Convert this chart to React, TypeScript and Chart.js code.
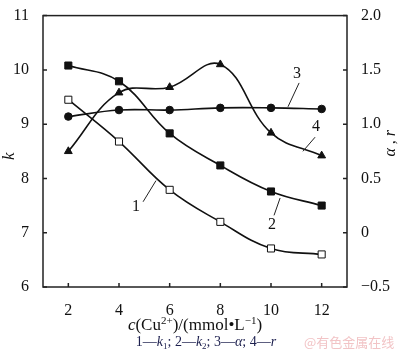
import React, { useEffect, useRef } from "react";
import { Chart, registerables } from "chart.js";

Chart.register(...registerables);

const xValues = [2, 4, 6, 8, 10, 12];
const k1Values = [9.45, 8.68, 7.79, 7.2, 6.71, 6.6];
const k2Values = [10.08, 9.79, 8.83, 8.24, 7.76, 7.5];
const alphaValues = [1.07, 1.13, 1.13, 1.15, 1.15, 1.14];
const rValues = [0.75, 1.29, 1.34, 1.55, 0.92, 0.71];
const xTicks = [2, 4, 6, 8, 10, 12];
const kTicks = [6, 7, 8, 9, 10, 11];
const rightTicks = [-0.5, 0, 0.5, 1.0, 1.5, 2.0];

const SERIF = "'Liberation Serif', 'Times New Roman', serif";

// curve labels in data coords: label position and leader line ends
const curveLabels = [
  { text: "1", axis: "y", lx: 4.67, ly: 7.48, x0: 4.95, y0: 7.57, x1: 5.46, y1: 7.96 },
  { text: "2", axis: "y", lx: 10.04, ly: 7.14, x0: 10.12, y0: 7.32, x1: 10.36, y1: 7.64 },
  { text: "3", axis: "y1", lx: 11.03, ly: 1.46, x0: 11.11, y0: 1.38, x1: 10.67, y1: 1.16 },
  { text: "4", axis: "y1", lx: 11.78, ly: 0.98, x0: 11.74, y0: 0.88, x1: 11.26, y1: 0.75 },
];

type Seg = { t: string; italic?: boolean; sup?: boolean; sub?: boolean };

function drawRuns(ctx: CanvasRenderingContext2D, segs: Seg[], cx: number, baseline: number, size: number, family: string, color: string) {
  const fontFor = (s: Seg) => {
    const sz = s.sup || s.sub ? Math.round(size * 0.65) : size;
    return `${s.italic ? "italic " : ""}${sz}px ${family}`;
  };
  let total = 0;
  for (const s of segs) {
    ctx.font = fontFor(s);
    total += ctx.measureText(s.t).width;
  }
  let x = cx - total / 2;
  ctx.fillStyle = color;
  ctx.textAlign = "left";
  ctx.textBaseline = "alphabetic";
  for (const s of segs) {
    ctx.font = fontFor(s);
    const dy = s.sup ? -size * 0.38 : s.sub ? size * 0.2 : 0;
    ctx.fillText(s.t, x, baseline + dy);
    x += ctx.measureText(s.t).width;
  }
}

const decorPlugin = {
  id: "decor",
  afterDraw(chart: any) {
    const { ctx, chartArea: a, scales } = chart;
    const xs = scales.x, ys = scales.y, y1 = scales.y1;
    ctx.save();
    // frame
    ctx.strokeStyle = "#222";
    ctx.lineWidth = 1.5;
    ctx.strokeRect(a.left, a.top, a.right - a.left, a.bottom - a.top);
    // inward ticks
    ctx.beginPath();
    for (const v of xTicks) {
      const px = xs.getPixelForValue(v);
      ctx.moveTo(px, a.bottom);
      ctx.lineTo(px, a.bottom - 4);
    }
    for (const v of kTicks) {
      const py = ys.getPixelForValue(v);
      ctx.moveTo(a.left, py);
      ctx.lineTo(a.left + 4, py);
    }
    for (const v of rightTicks) {
      const py = y1.getPixelForValue(v);
      ctx.moveTo(a.right, py);
      ctx.lineTo(a.right - 4, py);
    }
    ctx.stroke();

    // curve labels
    ctx.lineWidth = 1;
    ctx.strokeStyle = "#222";
    ctx.fillStyle = "#111";
    ctx.font = `16px ${SERIF}`;
    ctx.textAlign = "center";
    ctx.textBaseline = "middle";
    for (const l of curveLabels) {
      const sc = l.axis === "y" ? ys : y1;
      ctx.fillText(l.text, xs.getPixelForValue(l.lx), sc.getPixelForValue(l.ly));
      ctx.beginPath();
      ctx.moveTo(xs.getPixelForValue(l.x0), sc.getPixelForValue(l.y0));
      ctx.lineTo(xs.getPixelForValue(l.x1), sc.getPixelForValue(l.y1));
      ctx.stroke();
    }

    // left title k
    ctx.save();
    ctx.translate(10, (a.top + a.bottom) / 2 + 5);
    ctx.rotate(-Math.PI / 2);
    ctx.font = `italic 17px ${SERIF}`;
    ctx.fillStyle = "#111";
    ctx.textAlign = "center";
    ctx.textBaseline = "middle";
    ctx.fillText("k", 0, 0);
    ctx.restore();

    // right title
    ctx.save();
    ctx.translate(391, (a.top + a.bottom) / 2 - 8);
    ctx.rotate(-Math.PI / 2);
    ctx.font = `italic 16px ${SERIF}`;
    ctx.fillStyle = "#111";
    ctx.textAlign = "center";
    ctx.textBaseline = "middle";
    ctx.fillText("α , r", 0, 0);
    ctx.restore();

    // x title
    drawRuns(ctx, [
      { t: "c", italic: true },
      { t: "(Cu" },
      { t: "2+", sup: true },
      { t: ")/(mmol•L" },
      { t: "−1", sup: true },
      { t: ")" },
    ], 195, 330, 17, SERIF, "#111");

    // legend line
    drawRuns(ctx, [
      { t: "1—" },
      { t: "k", italic: true },
      { t: "1", sub: true },
      { t: "; 2—" },
      { t: "k", italic: true },
      { t: "2", sub: true },
      { t: "; 3—" },
      { t: "α", italic: true },
      { t: "; 4—" },
      { t: "r", italic: true },
    ], 206, 346, 14, SERIF, "#1c1f4e");

    // watermark
    ctx.font = `13px 'Noto Sans CJK SC', sans-serif`;
    ctx.fillStyle = "#f2c4c6";
    ctx.textAlign = "left";
    ctx.textBaseline = "alphabetic";
    ctx.fillText("@有色金属在线", 304, 347);
    ctx.restore();
  },
};

export default function App() {
  const ref = useRef<HTMLCanvasElement>(null);
  useEffect(() => {
    if (!ref.current) return;
    const pts = (vals: number[]) => xValues.map((x, i) => ({ x, y: vals[i] }));
    const common = {
      borderColor: "#111",
      borderWidth: 1.6,
      tension: 0.4,
      pointBorderColor: "#111",
      pointBorderWidth: 1,
    };
    const chart = new Chart(ref.current, {
      type: "line",
      data: {
        datasets: [
          { ...common, label: "k1", data: pts(k1Values), yAxisID: "y", pointStyle: "rect", pointRadius: 5, pointBackgroundColor: "#fff" },
          { ...common, label: "k2", data: pts(k2Values), yAxisID: "y", pointStyle: "rect", pointRadius: 5, pointBackgroundColor: "#111" },
          { ...common, label: "alpha", data: pts(alphaValues), yAxisID: "y1", pointStyle: "circle", pointRadius: 3.8, pointBackgroundColor: "#111" },
          { ...common, label: "r", data: pts(rValues), yAxisID: "y1", pointStyle: "triangle", pointRadius: 4.5, pointBackgroundColor: "#111" },
        ],
      },
      options: {
        responsive: false,
        animation: false,
        layout: { padding: { top: 6, left: 0, right: 0, bottom: 0 } },
        plugins: { legend: { display: false }, tooltip: { enabled: false } },
        scales: {
          x: {
            type: "linear",
            min: 1,
            max: 13,
            grid: { display: false },
            border: { display: false },
            afterBuildTicks: (s: any) => { s.ticks = xTicks.map((v) => ({ value: v })); },
            afterFit: (s: any) => { s.height = 65; },
            ticks: { padding: 6, color: "#111", font: { family: SERIF, size: 16 }, callback: (v: any) => String(v) },
          },
          y: {
            type: "linear",
            position: "left",
            min: 6,
            max: 11,
            grid: { display: false },
            border: { display: false },
            afterBuildTicks: (s: any) => { s.ticks = kTicks.map((v) => ({ value: v })); },
            afterFit: (s: any) => { s.width = 43; },
            ticks: { padding: 6, color: "#111", font: { family: SERIF, size: 16 }, callback: (v: any) => String(v) },
          },
          y1: {
            type: "linear",
            position: "right",
            min: -0.5,
            max: 2,
            grid: { display: false },
            border: { display: false },
            afterBuildTicks: (s: any) => { s.ticks = rightTicks.map((v) => ({ value: v })); },
            afterFit: (s: any) => { s.width = 53; },
            ticks: {
              padding: 6,
              color: "#111",
              font: { family: SERIF, size: 16 },
              callback: (v: any) => (v === 0 ? "0" : v < 0 ? "−" + Math.abs(v).toFixed(1) : Number(v).toFixed(1)),
            },
          },
        },
      },
      plugins: [decorPlugin],
    } as any);
    return () => chart.destroy();
  }, []);
  return (
    <div style={{ position: "fixed", left: 0, top: 0, width: 400, height: 352, background: "#fff" }}>
      <canvas ref={ref} width={400} height={352} style={{ display: "block", width: 400, height: 352 }} />
    </div>
  );
}
